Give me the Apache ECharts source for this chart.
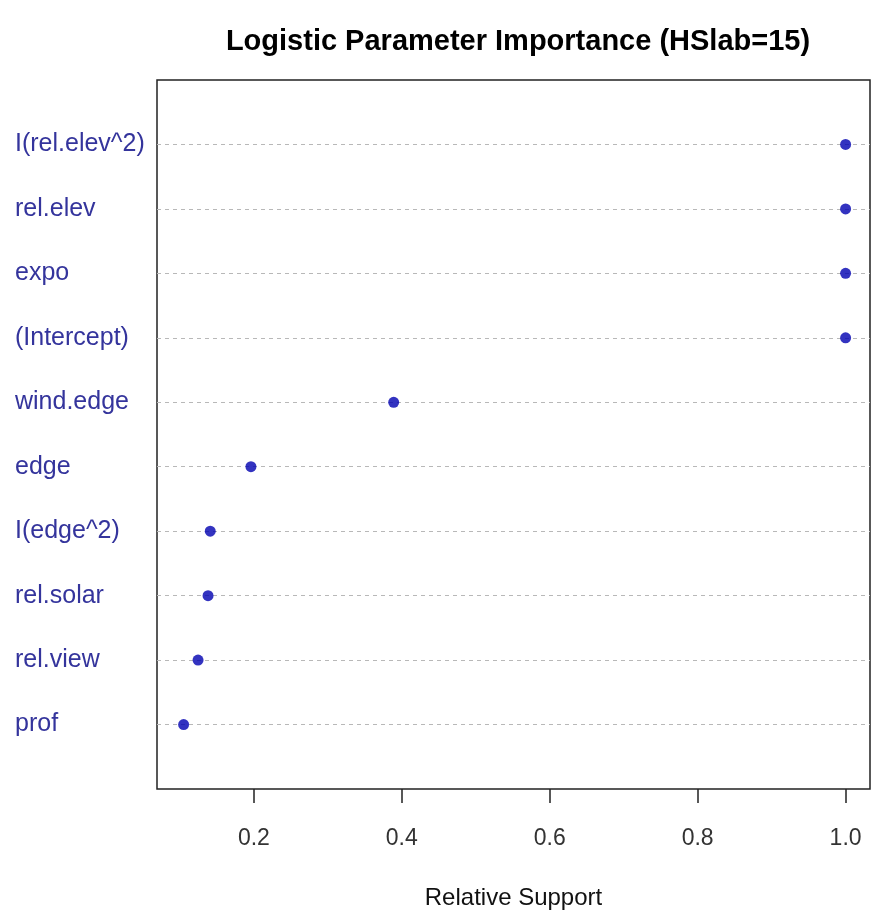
<!DOCTYPE html>
<html><head><meta charset="utf-8">
<script src="https://cdn.jsdelivr.net/npm/echarts@6/dist/echarts.min.js"></script>
<style>html,body{margin:0;padding:0;background:#fff}#c{width:871px;height:911px}</style>
</head><body><div id="c"></div>
<script>
// categories from bottom (position 1) to top (position 10)
var categories = ['prof','rel.view','rel.solar','I(edge^2)','edge','wind.edge','(Intercept)','expo','rel.elev','I(rel.elev^2)'];
var support = [0.105, 0.1245, 0.138, 0.141, 0.196, 0.389, 1.0, 1.0, 1.0, 1.0];
var xTicks = [0.2, 0.4, 0.6, 0.8, 1.0];

var pts = support.map(function(v, i){ return [v, i + 1]; });
var splitColors = [];
for (var k = 0; k <= categories.length + 1; k++) {
  splitColors.push((k === 0 || k === categories.length + 1) ? 'rgba(0,0,0,0)' : '#b8b8b8');
}
var FONT = 'Liberation Sans, Arial, sans-serif';
var chart = echarts.init(document.getElementById('c'), null, {renderer:'canvas'});
chart.setOption({
  animation: false,
  backgroundColor: '#fff',
  title: {
    text: 'Logistic Parameter Importance (HSlab=15)',
    left: 513, top: 22, textAlign: 'center',
    textStyle: {fontFamily: FONT, fontWeight: 'bold', fontSize: 29, color: '#000'}
  },
  grid: {left: 157, right: 1, top: 80, bottom: 122, show: true, outerBoundsMode: 'none', containLabel: false,
    borderColor: '#222', borderWidth: 1.5, backgroundColor: 'transparent'},
  xAxis: {
    type: 'value', min: 0.069, max: 1.033,
    name: 'Relative Support', nameLocation: 'middle', nameGap: 97,
    nameTextStyle: {fontFamily: FONT, fontSize: 24, color: '#111'},
    axisLine: {show: false},
    axisTick: {show: true, customValues: xTicks, length: 14, lineStyle: {color: '#222', width: 1.5}},
    axisLabel: {customValues: xTicks, formatter: function(v){ return v.toFixed(1); }, margin: 38,
      fontFamily: FONT, fontSize: 23, color: '#333'},
    splitLine: {show: false}
  },
  yAxis: {
    type: 'value', min: 0, max: categories.length + 1, interval: 1,
    axisLine: {show: false}, axisTick: {show: false},
    axisLabel: {
      formatter: function(v){ return (v >= 1 && v <= categories.length) ? categories[v - 1] : ''; },
      align: 'left', margin: 142,
      fontFamily: FONT, fontSize: 25, color: '#34349c'
    },
    splitLine: {show: true, lineStyle: {color: splitColors, type: [4, 4], width: 1}}
  },
  series: [{
    type: 'scatter', data: pts, symbol: 'circle', symbolSize: 11,
    itemStyle: {color: '#0000b0'}
  }]
});
</script></body></html>
